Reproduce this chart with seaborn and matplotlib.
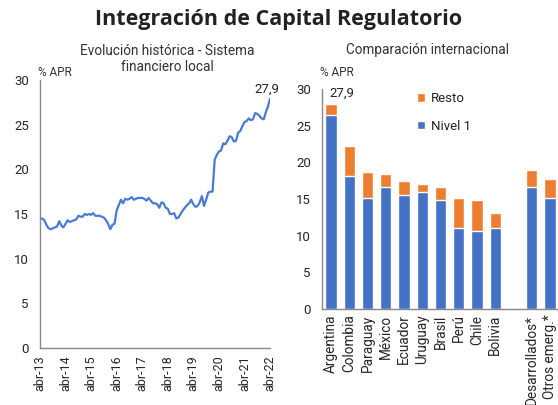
import seaborn as sns
import pandas as pd
import matplotlib.pyplot as plt

# data - historical series (monthly, abr-13 .. abr-22)
start_month = "2013-04-01"
capital_ratio = [
    14.5, 14.5, 14.3, 13.8, 13.4, 13.3, 13.4, 13.5, 13.6, 14.2, 13.7, 13.5,
    13.9, 14.3, 14.1, 14.2, 14.3, 14.4, 14.8, 14.7, 14.7, 15.0, 14.9, 15.0,
    14.9, 15.1, 14.8, 14.8, 14.8, 14.7, 14.6, 14.3, 13.9, 13.3, 13.8, 13.9,
    15.4, 16.0, 16.6, 16.2, 16.7, 16.6, 16.7, 16.9, 16.6, 16.7, 16.8, 16.8,
    16.8, 16.7, 16.5, 16.8, 16.5, 16.2, 16.2, 16.1, 15.7, 16.3, 16.2, 15.7,
    15.6, 15.0, 15.0, 15.1, 14.5, 14.6, 15.0, 15.4, 15.7, 16.0, 16.2, 16.6,
    16.1, 15.8, 15.9, 16.3, 17.0, 15.9, 16.6, 17.4, 17.5, 17.5, 21.1, 21.6,
    22.0, 22.1, 22.9, 22.8, 23.2, 23.7, 23.6, 23.1, 23.2, 24.1, 24.3, 24.8,
    25.3, 25.4, 25.7, 25.5, 25.6, 26.3, 26.2, 26.0, 25.7, 25.6, 26.4, 27.0,
    27.9,
]
year_labels = ["abr-13", "abr-14", "abr-15", "abr-16", "abr-17",
               "abr-18", "abr-19", "abr-20", "abr-21", "abr-22"]

# data - international comparison
countries = ["Argentina", "Colombia", "Paraguay", "México", "Ecuador",
             "Uruguay", "Brasil", "Perú", "Chile", "Bolivia"]
aggregates = ["Desarrollados*", "Otros emerg.*"]
total = [27.9, 22.2, 18.75, 18.4, 17.4, 17.0, 16.7, 15.2, 14.9, 13.1, 19.0, 17.7]
nivel1 = [26.5, 18.2, 15.2, 16.7, 15.6, 16.0, 14.8, 11.0, 10.7, 11.0, 16.7, 15.2]

blue = "#4472C4"
orange = "#ED7D31"
line_blue = "#4a7bd4"

sns.set_style("white")
plt.rcParams["font.family"] = ["Roboto", "DejaVu Sans"]
plt.rcParams["text.color"] = "#222222"

fig = plt.figure(figsize=(5.58, 4.05), dpi=100)
fig.text(0.5, 1 - 20 / 405, "Integración de Capital Regulatorio", ha="center", va="center",
         fontsize=15.5, fontweight="bold", family=["Open Sans", "DejaVu Sans"])

# Left: historical evolution
ax1 = fig.add_axes([40 / 558, 1 - 348 / 405, 230 / 558, 268 / 405])
df_hist = pd.DataFrame({
    "fecha": pd.date_range(start_month, periods=len(capital_ratio), freq="MS"),
    "valor": capital_ratio,
})
sns.lineplot(data=df_hist, x="fecha", y="valor", ax=ax1, color=line_blue, linewidth=1.6)
ax1.set_ylim(0, 30)
ax1.set_xlim(df_hist["fecha"].iloc[0], df_hist["fecha"].iloc[-1])
year_ticks = pd.date_range(start_month, periods=len(year_labels), freq="12MS")
ax1.set_xticks(year_ticks)
ax1.set_xticklabels(year_labels, rotation=90, fontsize=9)
ax1.set_yticks(range(0, 31, 5))
ax1.tick_params(axis="y", labelsize=9.5, direction="in", length=3, color="#888888", pad=8)
ax1.tick_params(axis="x", direction="out", length=3, color="#888888", pad=2)
ax1.set_xlabel("")
ax1.set_ylabel("")
for s in ["top", "right"]:
    ax1.spines[s].set_visible(False)
for s in ["left", "bottom"]:
    ax1.spines[s].set_color("#888888")
    ax1.spines[s].set_linewidth(1)
ax1.annotate("27,9", (df_hist["fecha"].iloc[-1], capital_ratio[-1]),
             xytext=(-2, 2), textcoords="offset points", ha="center", va="bottom", fontsize=9.5)
fig.text(167 / 558, 1 - 59 / 405, "Evolución histórica - Sistema\nfinanciero local",
         ha="center", va="center", fontsize=9.8, linespacing=1.1, color="#333333")
fig.text(38 / 558, 1 - 73 / 405, "% APR", ha="left", va="center", fontsize=8.5, color="#333333")

# Right: international comparison
order = countries + [" "] + aggregates
df_int = pd.DataFrame({
    "pais": countries + aggregates,
    "total": total,
    "nivel1": nivel1,
})
ax2 = fig.add_axes([322 / 558, 1 - 309 / 405, 237 / 558, 220 / 405])
sns.barplot(data=df_int, x="pais", y="total", order=order, color=orange,
            saturation=1, width=0.62, ax=ax2, label="Resto")
sns.barplot(data=df_int, x="pais", y="nivel1", order=order, color=blue,
            saturation=1, width=0.62, ax=ax2, label="Nivel 1")
ax2.set_ylim(0, 30)
ax2.set_xlim(-0.5, len(order) - 0.5)
ax2.set_yticks(range(0, 31, 5))
ax2.set_xticks(range(len(order)))
ax2.set_xticklabels(order, rotation=90, fontsize=9.8)
ax2.set_xticks([i + 0.5 for i in range(len(order) - 1)], minor=True)
ax2.tick_params(axis="x", which="major", length=0, pad=4)
ax2.tick_params(axis="x", which="minor", direction="in", length=3, color="#888888")
ax2.tick_params(axis="y", labelsize=9.5, direction="in", length=3, color="#888888", pad=8)
ax2.set_xlabel("")
ax2.set_ylabel("")
for s in ["top", "right"]:
    ax2.spines[s].set_visible(False)
for s in ["left", "bottom"]:
    ax2.spines[s].set_color("#888888")
    ax2.spines[s].set_linewidth(1)
ax2.annotate("27,9", (0, total[0]), xytext=(8, 3), textcoords="offset points",
             ha="center", va="bottom", fontsize=9.5)
handles, labels = ax2.get_legend_handles_labels()
ax2.legend(handles, labels, loc="upper left", bbox_to_anchor=(0.40, 0.985), frameon=False,
           fontsize=9.5, handlelength=0.6, handleheight=0.6, labelspacing=1.1,
           handletextpad=0.45, borderpad=0, borderaxespad=0)
fig.text(427 / 558, 1 - 50 / 405, "Comparación internacional", ha="center", va="center",
         fontsize=9.8, color="#333333")
fig.text(320 / 558, 1 - 73 / 405, "% APR", ha="left", va="center", fontsize=8.5, color="#333333")

fig.savefig("out.png", dpi=100)
